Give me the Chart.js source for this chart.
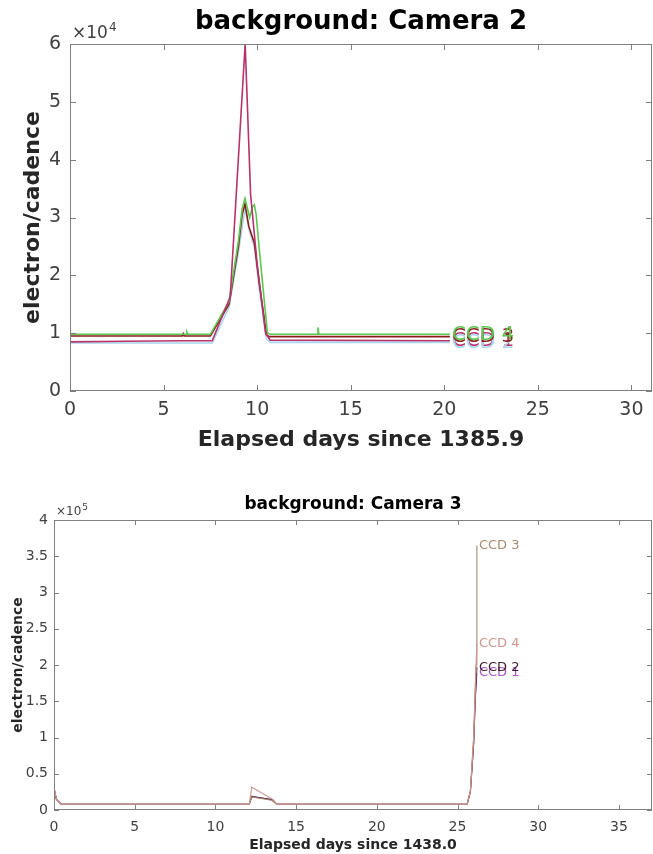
<!DOCTYPE html>
<html>
<head>
<meta charset="utf-8">
<script src="https://cdn.jsdelivr.net/npm/chart.js@4"></script>
<style>
  html, body { margin: 0; padding: 0; background: #fff; }
  #wrap { position: relative; width: 653px; height: 854px; overflow: hidden; }
  canvas { position: absolute; left: 0; }
  #cam2 { top: 0; }
  #cam3 { top: 460px; }
</style>
</head>
<body>
<div id="wrap">
  <canvas id="cam2" width="653" height="460"></canvas>
  <canvas id="cam3" width="653" height="394"></canvas>
</div>
<script>
// ---- Camera 2 (elapsed days, electron/cadence) ----
var cam2Ccd1X = [0, 3, 6, 7.6, 8.56, 9.36, 9.65, 10.0, 10.45, 10.7, 20.3];
var cam2Ccd1Y = [8500, 8600, 8700, 8700, 16300, 60000, 34000, 22000, 10000, 8800, 8700];
var cam2Ccd2X = [0, 7.6, 8.5, 9.0, 9.35, 9.6, 9.85, 10.1, 10.5, 10.7, 20.3];
var cam2Ccd2Y = [8300, 8300, 14500, 24000, 31500, 27500, 25000, 18000, 9000, 8400, 8400];
var cam2Ccd3X = [0, 6.0, 6.05, 6.1, 7.5, 8.5, 9.0, 9.2, 9.35, 9.55, 9.85, 10.1, 10.5, 10.65, 20.3];
var cam2Ccd3Y = [9500, 9500, 9900, 9500, 9500, 15000, 25000, 30500, 32400, 28500, 25600, 19000, 9700, 9400, 9400];
var cam2Ccd4X = [0, 6.2, 6.25, 6.3, 7.5, 8.5, 9.0, 9.2, 9.35, 9.6, 9.75, 9.85, 9.95, 10.1, 10.55, 10.7, 13.2, 13.25, 13.3, 20.3];
var cam2Ccd4Y = [9800, 9800, 10200, 9800, 9800, 15500, 26000, 31500, 33300, 30000, 31800, 32200, 30500, 25000, 10000, 9800, 9800, 11000, 9800, 9800];

// ---- Camera 3 ----
var cam3Ccd1X = [0, 0.15, 0.45, 12.1, 12.25, 13.5, 13.8, 25.6, 25.8, 26.0, 26.1, 26.2];
var cam3Ccd1Y = [30000, 15000, 8000, 8000, 19000, 14000, 8000, 8000, 25000, 90000, 150000, 189000];
var cam3Ccd2X = [0, 0.15, 0.45, 12.1, 12.25, 13.5, 13.8, 25.6, 25.8, 26.0, 26.1, 26.2];
var cam3Ccd2Y = [29000, 14500, 8000, 8000, 18500, 14500, 8000, 8000, 26000, 92000, 155000, 197000];
var cam3Ccd3X = [0, 0.15, 0.45, 12.1, 12.25, 13.5, 13.8, 25.6, 25.8, 26.0, 26.15, 26.2];
var cam3Ccd3Y = [30500, 15000, 8000, 8000, 18000, 13500, 8000, 8000, 27000, 100000, 200000, 365000];
var cam3Ccd4X = [0, 0.15, 0.45, 12.1, 12.25, 13.6, 13.8, 25.6, 25.8, 26.0, 26.1, 26.2];
var cam3Ccd4Y = [31000, 15500, 8000, 8000, 31500, 14000, 8000, 8000, 27000, 100000, 170000, 230000];

var ccdNames = ["CCD 1", "CCD 2", "CCD 3", "CCD 4"];
var cam2Colors = ["#b8336a", "#a9d6f0", "#8b1c1c", "#5cc850"];
var cam3Colors = ["#a855c8", "#3a1a2c", "#a88a6e", "#cf9690"];

Chart.defaults.font.family = "'DejaVu Sans', sans-serif";

function toPoints(xs, ys) {
    return xs.map(function (x, i) { return { x: x, y: ys[i] }; });
}

// draws the boxed axes with inward ticks, the end labels and the titles
var matlabAxes = {
    id: "matlabAxes",
    afterDatasetsDraw: function (chart, args, opts) {
        let ctx = chart.ctx;
        let a = chart.chartArea;
        let xs = chart.scales.x;
        let ys = chart.scales.y;
        ctx.save();
        ctx.strokeStyle = "#808080";
        ctx.lineWidth = 1;
        ctx.strokeRect(Math.round(a.left) + 0.5, Math.round(a.top) + 0.5,
            Math.round(a.right - a.left) - 1, Math.round(a.bottom - a.top) - 1);
        ctx.beginPath();
        xs.ticks.forEach(function (t) {
            let px = Math.round(xs.getPixelForValue(t.value)) + 0.5;
            ctx.moveTo(px, a.bottom); ctx.lineTo(px, a.bottom - opts.tick);
            ctx.moveTo(px, a.top); ctx.lineTo(px, a.top + opts.tick);
        });
        ys.ticks.forEach(function (t) {
            let py = Math.round(ys.getPixelForValue(t.value)) + 0.5;
            ctx.moveTo(a.left, py); ctx.lineTo(a.left + opts.tick, py);
            ctx.moveTo(a.right, py); ctx.lineTo(a.right - opts.tick, py);
        });
        ctx.stroke();

        // end-of-line labels, CCD 1 first so CCD 4 ends up on top
        ctx.font = opts.labelFont;
        ctx.textAlign = "left";
        ctx.textBaseline = "middle";
        let idx = chart.data.datasets.map(function (d, i) { return i; });
        idx.sort(function (p, q) {
            return chart.data.datasets[p].label < chart.data.datasets[q].label ? -1 : 1;
        });
        idx.forEach(function (i) {
            let ds = chart.data.datasets[i];
            let pts = chart.getDatasetMeta(i).data;
            let last = pts[pts.length - 1];
            ctx.fillStyle = ds.borderColor;
            ctx.fillText(ds.label, last.x + 2, last.y);
        });

        let cx = (a.left + a.right) / 2;
        ctx.fillStyle = "#000";
        ctx.textAlign = "center";
        ctx.font = opts.titleFont;
        ctx.fillText(opts.title, cx, opts.titleY);

        ctx.fillStyle = "#262626";
        ctx.font = opts.axisFont;
        ctx.fillText(opts.xTitle, cx, opts.xTitleY);
        ctx.save();
        ctx.translate(opts.yTitleX, (a.top + a.bottom) / 2);
        ctx.rotate(-Math.PI / 2);
        ctx.fillText(opts.yTitle, 0, 0);
        ctx.restore();

        // exponent label
        ctx.textAlign = "left";
        ctx.fillStyle = "#404040";
        ctx.font = opts.expFont;
        ctx.fillText("\u00d710", a.left + 2, opts.expY);
        let w = ctx.measureText("\u00d710").width;
        ctx.font = opts.supFont;
        ctx.fillText(opts.exp, a.left + 2 + w + 1, opts.expY - opts.supRise);
        ctx.restore();
    }
};

function makeChart(id, xsList, ysList, colors, cfg) {
    let datasets = [];
    // first in list is drawn on top
    cfg.order.forEach(function (i) {
        datasets.push({
            label: ccdNames[i],
            data: toPoints(xsList[i], ysList[i]),
            borderColor: colors[i],
            borderWidth: cfg.lineWidth,
            pointRadius: 0,
            tension: 0,
            fill: false
        });
    });
    let ctx = document.getElementById(id).getContext("2d");
    return new Chart(ctx, {
        type: "line",
        data: { datasets: datasets },
        options: {
            responsive: false,
            animation: false,
            layout: { padding: { top: cfg.top, right: 1, left: 0, bottom: 0 } },
            plugins: {
                legend: { display: false },
                tooltip: { enabled: false },
                matlabAxes: cfg.axes
            },
            scales: {
                x: {
                    type: "linear",
                    min: 0,
                    max: cfg.xMax,
                    grid: { display: false, drawTicks: false },
                    border: { display: false },
                    afterFit: function (s) { s.height = cfg.xHeight; },
                    ticks: {
                        stepSize: 5,
                        includeBounds: false,
                        padding: cfg.xPad,
                        color: "#404040",
                        font: { size: cfg.tickSize },
                        maxRotation: 0
                    }
                },
                y: {
                    min: 0,
                    max: cfg.yMax,
                    grid: { display: false, drawTicks: false },
                    border: { display: false },
                    afterFit: function (s) { s.width = cfg.yWidth; },
                    ticks: {
                        stepSize: cfg.yStep,
                        padding: cfg.yPad,
                        color: "#404040",
                        font: { size: cfg.tickSize },
                        callback: function (v) { return +(v / cfg.yScale).toFixed(1) + ""; }
                    }
                }
            }
        },
        plugins: [matlabAxes]
    });
}

makeChart("cam2",
    [cam2Ccd1X, cam2Ccd2X, cam2Ccd3X, cam2Ccd4X],
    [cam2Ccd1Y, cam2Ccd2Y, cam2Ccd3Y, cam2Ccd4Y],
    cam2Colors, {
        order: [0, 3, 2, 1],
        lineWidth: 1.6,
        top: 44, xHeight: 69, yWidth: 70,
        xMax: 31.1, yMax: 60000, yStep: 10000, yScale: 10000,
        tickSize: 19, xPad: 8, yPad: 9,
        axes: {
            tick: 6,
            labelFont: "20px 'DejaVu Sans'",
            title: "background: Camera 2",
            titleFont: "bold 26px 'DejaVu Sans'",
            titleY: 22,
            xTitle: "Elapsed days since 1385.9",
            xTitleY: 440,
            yTitle: "electron/cadence",
            yTitleX: 33,
            axisFont: "bold 22px 'DejaVu Sans'",
            exp: "4",
            expFont: "17px 'DejaVu Sans'",
            supFont: "12px 'DejaVu Sans'",
            supRise: 6,
            expY: 34
        }
    });

makeChart("cam3",
    [cam3Ccd1X, cam3Ccd2X, cam3Ccd3X, cam3Ccd4X],
    [cam3Ccd1Y, cam3Ccd2Y, cam3Ccd3Y, cam3Ccd4Y],
    cam3Colors, {
        order: [3, 2, 1, 0],
        lineWidth: 1.1,
        top: 60, xHeight: 44, yWidth: 54,
        xMax: 37.05, yMax: 400000, yStep: 50000, yScale: 100000,
        tickSize: 14, xPad: 9, yPad: 6,
        axes: {
            tick: 5,
            labelFont: "13px 'DejaVu Sans'",
            title: "background: Camera 3",
            titleFont: "bold 17px 'DejaVu Sans'",
            titleY: 45,
            xTitle: "Elapsed days since 1438.0",
            xTitleY: 385,
            yTitle: "electron/cadence",
            yTitleX: 18,
            axisFont: "bold 14px 'DejaVu Sans'",
            exp: "5",
            expFont: "12px 'DejaVu Sans'",
            supFont: "9px 'DejaVu Sans'",
            supRise: 4,
            expY: 52
        }
    });
</script>
</body>
</html>
